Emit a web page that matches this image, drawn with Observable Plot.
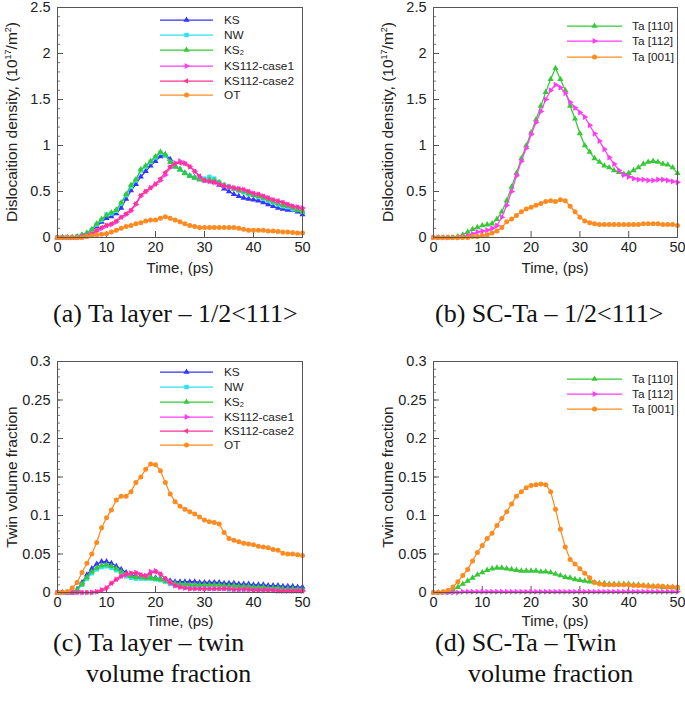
<!DOCTYPE html>
<html><head><meta charset="utf-8">
<script src="https://cdn.jsdelivr.net/npm/d3@7"></script>
<script src="https://cdn.jsdelivr.net/npm/@observablehq/plot@0.6"></script>
<style>
body{margin:0;background:#fff;}
#root{position:relative;width:685px;height:701px;overflow:hidden;background:#fff;font-family:"Liberation Sans",Arial,sans-serif;color:#222;}
.panel{position:absolute;}
.cap{position:absolute;font-family:"Liberation Serif","Times New Roman",serif;font-size:26px;line-height:26px;color:#111;white-space:nowrap;}
.ylab{position:absolute;font-size:15.5px;line-height:15px;white-space:nowrap;transform:translate(-50%,-50%) rotate(-90deg);}
.xlab{position:absolute;font-size:15px;line-height:15px;white-space:nowrap;transform:translate(-50%,-50%);}
.ylab sup{font-size:9px;vertical-align:6px;line-height:0;}
.legt{position:absolute;font-size:11.8px;line-height:11px;height:11px;overflow:visible;white-space:nowrap;transform:translateY(-50%);color:#222;}
.legt sub{font-size:7.5px;vertical-align:-1px;line-height:0;}
.legs{position:absolute;overflow:visible;}
</style>
</head><body>
<div id="root"></div>
<script>
// ---------------- data ----------------
const time = [0,1,2,3,4,5,6,7,8,9,10,11,12,13,14,15,16,17,18,19,20,21,22,23,24,25,26,27,28,29,30,31,32,33,34,35,36,37,38,39,40,41,42,43,44,45,46,47,48,49,50];
const xTicks = [0,10,20,30,40,50];
const yTicksDensity = [0,0.5,1,1.5,2,2.5];
const yTicksTwin = [0,0.05,0.1,0.15,0.2,0.25,0.3];

// (a) Ta layer – dislocation density
const ksA  = [0,0,0,0,0,0.02,0.04,0.07,0.12,0.17,0.21,0.23,0.26,0.32,0.42,0.51,0.58,0.66,0.72,0.78,0.83,0.88,0.9,0.85,0.78,0.74,0.7,0.67,0.65,0.63,0.62,0.62,0.6,0.57,0.53,0.5,0.47,0.45,0.43,0.42,0.41,0.4,0.38,0.36,0.34,0.32,0.31,0.3,0.3,0.28,0.25];
const nwA  = [0,0,0,0,0.01,0.02,0.04,0.08,0.14,0.19,0.25,0.26,0.29,0.37,0.46,0.55,0.62,0.73,0.77,0.82,0.87,0.92,0.89,0.82,0.77,0.74,0.7,0.67,0.65,0.64,0.64,0.66,0.64,0.6,0.57,0.55,0.53,0.51,0.49,0.47,0.46,0.44,0.42,0.4,0.38,0.36,0.34,0.33,0.31,0.3,0.28];
const ks2A = [0,0,0,0,0.01,0.03,0.05,0.09,0.15,0.2,0.24,0.27,0.3,0.38,0.47,0.57,0.63,0.74,0.78,0.83,0.88,0.93,0.9,0.82,0.77,0.74,0.7,0.67,0.65,0.63,0.62,0.63,0.62,0.6,0.57,0.55,0.53,0.51,0.5,0.48,0.46,0.45,0.43,0.41,0.39,0.37,0.35,0.34,0.32,0.3,0.28];
const c1A  = [0,0,0,0,0,0.01,0.02,0.04,0.07,0.1,0.13,0.14,0.17,0.22,0.25,0.29,0.36,0.45,0.5,0.54,0.58,0.62,0.68,0.76,0.81,0.83,0.81,0.77,0.72,0.66,0.62,0.61,0.6,0.58,0.56,0.55,0.54,0.53,0.52,0.5,0.48,0.47,0.45,0.43,0.41,0.39,0.38,0.36,0.34,0.33,0.32];
const c2A  = [0,0,0,0,0,0.01,0.02,0.04,0.08,0.11,0.13,0.15,0.18,0.22,0.26,0.3,0.37,0.46,0.5,0.54,0.58,0.64,0.71,0.77,0.8,0.81,0.8,0.77,0.72,0.67,0.62,0.61,0.6,0.58,0.56,0.55,0.54,0.53,0.52,0.5,0.48,0.47,0.45,0.43,0.41,0.4,0.38,0.36,0.34,0.33,0.31];
const otA  = [0,0,0,0,0,0,0.01,0.02,0.03,0.035,0.04,0.06,0.08,0.1,0.12,0.13,0.15,0.16,0.18,0.19,0.19,0.21,0.225,0.21,0.19,0.17,0.15,0.13,0.12,0.11,0.11,0.11,0.11,0.11,0.11,0.11,0.11,0.1,0.09,0.08,0.08,0.08,0.08,0.07,0.07,0.065,0.06,0.06,0.055,0.05,0.05];

// (b) SC-Ta – dislocation density
const ta110B = [0,0,0,0,0,0.01,0.03,0.06,0.09,0.11,0.13,0.14,0.15,0.2,0.28,0.4,0.55,0.7,0.86,1.0,1.14,1.28,1.43,1.58,1.72,1.84,1.72,1.6,1.43,1.29,1.13,1.0,0.93,0.86,0.82,0.78,0.76,0.73,0.71,0.69,0.7,0.73,0.76,0.8,0.82,0.83,0.82,0.8,0.79,0.76,0.7];
const ta112B = [0,0,0,0,0,0,0.01,0.02,0.04,0.06,0.07,0.08,0.1,0.13,0.22,0.35,0.5,0.67,0.83,0.97,1.12,1.25,1.37,1.5,1.6,1.66,1.63,1.57,1.47,1.41,1.36,1.31,1.22,1.13,1.05,0.96,0.87,0.8,0.73,0.68,0.66,0.64,0.63,0.63,0.62,0.62,0.63,0.63,0.62,0.61,0.6];
const ta001B = [0,0,0,0,0,0,0,0,0.01,0.01,0.02,0.03,0.05,0.07,0.11,0.17,0.2,0.24,0.28,0.31,0.33,0.35,0.37,0.39,0.4,0.39,0.41,0.4,0.34,0.28,0.22,0.18,0.16,0.15,0.14,0.14,0.14,0.14,0.14,0.14,0.14,0.14,0.14,0.15,0.15,0.15,0.15,0.14,0.14,0.14,0.13];

// (c) Ta layer – twin volume fraction
const ksC  = [0,0,0,0,0.004,0.013,0.023,0.031,0.037,0.04,0.04,0.038,0.034,0.03,0.026,0.023,0.021,0.02,0.02,0.02,0.019,0.018,0.017,0.015,0.014,0.014,0.014,0.014,0.014,0.013,0.013,0.013,0.013,0.013,0.012,0.012,0.012,0.011,0.011,0.011,0.01,0.01,0.01,0.009,0.009,0.009,0.008,0.008,0.008,0.007,0.007];
const nwC  = [0,0,0,0,0.003,0.01,0.018,0.025,0.03,0.033,0.034,0.032,0.029,0.025,0.021,0.019,0.018,0.018,0.018,0.018,0.017,0.016,0.014,0.011,0.009,0.008,0.007,0.006,0.006,0.006,0.005,0.005,0.005,0.005,0.005,0.004,0.004,0.004,0.004,0.004,0.004,0.003,0.003,0.003,0.003,0.003,0.003,0.003,0.003,0.003,0.003];
const ks2C = [0,0,0,0,0.003,0.011,0.02,0.027,0.032,0.035,0.036,0.034,0.031,0.027,0.023,0.021,0.02,0.02,0.019,0.019,0.018,0.017,0.015,0.013,0.012,0.011,0.011,0.01,0.01,0.01,0.01,0.01,0.01,0.01,0.009,0.009,0.009,0.008,0.008,0.008,0.007,0.007,0.007,0.006,0.006,0.006,0.005,0.005,0.005,0.004,0.004];
const c1C  = [0,0,0,0,0,0,0,0,0.001,0.003,0.006,0.012,0.017,0.021,0.023,0.025,0.026,0.023,0.022,0.027,0.028,0.024,0.018,0.013,0.009,0.007,0.006,0.005,0.005,0.005,0.005,0.005,0.005,0.005,0.005,0.005,0.004,0.004,0.004,0.004,0.003,0.003,0.003,0.003,0.003,0.002,0.002,0.002,0.002,0.002,0.002];
const c2C  = [0,0,0,0,0,0,0,0,0.001,0.003,0.006,0.012,0.017,0.021,0.024,0.025,0.025,0.023,0.021,0.025,0.027,0.024,0.018,0.013,0.009,0.007,0.006,0.005,0.005,0.005,0.005,0.005,0.005,0.005,0.005,0.005,0.004,0.004,0.004,0.004,0.003,0.003,0.003,0.003,0.003,0.002,0.002,0.002,0.002,0.002,0.002];
const otC  = [0,0,0.001,0.006,0.013,0.026,0.038,0.05,0.065,0.084,0.097,0.107,0.12,0.125,0.125,0.131,0.143,0.15,0.16,0.167,0.166,0.158,0.143,0.128,0.118,0.112,0.108,0.105,0.102,0.098,0.094,0.092,0.091,0.089,0.078,0.07,0.068,0.066,0.064,0.063,0.062,0.06,0.059,0.058,0.056,0.055,0.051,0.05,0.05,0.049,0.048];

// (d) SC-Ta – twin volume fraction
const ta110D = [0,0,0,0,0.003,0.007,0.011,0.015,0.019,0.023,0.026,0.029,0.031,0.032,0.032,0.031,0.03,0.029,0.028,0.028,0.028,0.028,0.027,0.027,0.026,0.024,0.022,0.02,0.019,0.017,0.016,0.015,0.014,0.013,0.012,0.012,0.011,0.011,0.011,0.011,0.011,0.01,0.01,0.009,0.009,0.008,0.008,0.007,0.007,0.007,0.006];
const ta112D = [0,0,0,0,0,0,0.001,0.001,0.001,0.001,0.001,0.001,0.001,0.001,0.001,0.001,0.001,0.001,0.001,0.001,0.001,0.001,0.001,0.001,0.001,0.001,0.001,0.001,0.001,0.001,0.001,0.001,0.001,0.001,0.001,0.001,0.001,0.001,0.001,0.001,0.001,0.001,0.001,0.001,0.001,0.001,0.001,0.001,0.001,0.001,0.001];
const ta001D = [0,0,0.001,0.003,0.007,0.014,0.022,0.03,0.041,0.052,0.061,0.07,0.077,0.087,0.096,0.105,0.115,0.125,0.131,0.136,0.139,0.14,0.141,0.14,0.131,0.108,0.082,0.059,0.043,0.037,0.031,0.025,0.019,0.013,0.011,0.01,0.01,0.01,0.01,0.01,0.01,0.009,0.009,0.009,0.008,0.008,0.008,0.008,0.007,0.007,0.007];

// ---------------- styles ----------------
const sty = {
  KS:   {color:"#3535ff", symbol:"triangle", rotate:0,   r:2.3},
  NW:   {color:"#2fe0ee", symbol:"square",   rotate:0,   r:2.5},
  KS2:  {color:"#36c936", symbol:"triangle", rotate:0,   r:2.3},
  C1:   {color:"#ff3cf5", symbol:"triangle", rotate:90,  r:2.3},
  C2:   {color:"#ff3390", symbol:"triangle", rotate:-90, r:2.0},
  OT:   {color:"#ff8a1f", symbol:"circle",   rotate:0,   r:2.5}
};

const seriesA = [
  {label:"KS", html:"KS", values:ksA, ...sty.KS},
  {label:"NW", html:"NW", values:nwA, ...sty.NW},
  {label:"KS2", html:"KS<sub>2</sub>", values:ks2A, ...sty.KS2},
  {label:"KS112-case1", html:"KS112-case1", values:c1A, ...sty.C1},
  {label:"KS112-case2", html:"KS112-case2", values:c2A, ...sty.C2},
  {label:"OT", html:"OT", values:otA, ...sty.OT}
];
const seriesB = [
  {label:"Ta [110]", html:"Ta [110]", values:ta110B, ...sty.KS2},
  {label:"Ta [112]", html:"Ta [112]", values:ta112B, ...sty.C1},
  {label:"Ta [001]", html:"Ta [001]", values:ta001B, ...sty.OT}
];
const seriesC = [
  {label:"KS", html:"KS", values:ksC, ...sty.KS},
  {label:"NW", html:"NW", values:nwC, ...sty.NW},
  {label:"KS2", html:"KS<sub>2</sub>", values:ks2C, ...sty.KS2},
  {label:"KS112-case1", html:"KS112-case1", values:c1C, ...sty.C1},
  {label:"KS112-case2", html:"KS112-case2", values:c2C, ...sty.C2},
  {label:"OT", html:"OT", values:otC, ...sty.OT}
];
const seriesD = [
  {label:"Ta [110]", html:"Ta [110]", values:ta110D, ...sty.KS2},
  {label:"Ta [112]", html:"Ta [112]", values:ta112D, ...sty.C1},
  {label:"Ta [001]", html:"Ta [001]", values:ta001D, ...sty.OT}
];

const root = document.getElementById("root");
const symType = {triangle:d3.symbolTriangle, square:d3.symbolSquare, circle:d3.symbolCircle};

function makePanel({series, yDomain, yTicks, left, top, width, height, mL, mR, mT, mB}) {
  const fw = width - mL - mR, fh = height - mT - mB;
  const rows = series.flatMap(s => time.map((t, i) => ({t, v: s.values[i], label: s.label})));
  const yMinor = d3.ticks(yDomain[0], yDomain[1], (yTicks.length - 1) * 5);
  const marks = [
    Plot.tickY(yMinor, {y: d => d, insetRight: fw - 3, stroke: "#555", strokeWidth: 0.8}),
    Plot.tickY(yTicks, {y: d => d, insetRight: fw - 6, stroke: "#555"}),
    Plot.tickX(xTicks, {x: d => d, insetTop: fh - 6, stroke: "#555"})
  ];
  for (const s of series) {
    const d = rows.filter(r => r.label === s.label);
    marks.push(Plot.line(d, {x: "t", y: "v", stroke: s.color, strokeWidth: 1.25}));
    marks.push(Plot.dot(d, {x: "t", y: "v", fill: s.color, stroke: null, r: s.r, symbol: s.symbol, rotate: s.rotate}));
  }
  marks.push(Plot.frame({stroke: "#555", strokeWidth: 1}));
  const svg = Plot.plot({
    width, height, marginLeft: mL, marginRight: mR, marginTop: mT, marginBottom: mB,
    style: {fontFamily: "'Liberation Sans', Arial, sans-serif", fontSize: "14.5px", color: "#222", background: "transparent", overflow: "visible"},
    x: {domain: [0, 50], ticks: xTicks, tickSize: 0, tickPadding: 4, label: null},
    y: {domain: yDomain, ticks: yTicks, tickSize: 0, tickPadding: 7, tickFormat: d => String(d), label: null},
    marks
  });
  const div = document.createElement("div");
  div.className = "panel";
  div.style.left = left + "px";
  div.style.top = top + "px";
  div.appendChild(svg);
  root.appendChild(div);
}

function addText(cls, html, x, y) {
  const el = document.createElement("div");
  el.className = cls;
  el.innerHTML = html;
  el.style.left = x + "px";
  el.style.top = y + "px";
  root.appendChild(el);
}

function makeLegend(series, {x0, x1, tx, rows}) {
  const mx = (x0 + x1) / 2;
  series.forEach((s, i) => {
    const y = rows[i];
    const svg = d3.create("svg").attr("class", "legs")
      .attr("width", x1 - x0).attr("height", 10)
      .style("left", x0 + "px").style("top", (y - 5) + "px");
    svg.append("line").attr("x1", 0).attr("x2", x1 - x0).attr("y1", 5).attr("y2", 5)
      .attr("stroke", s.color).attr("stroke-width", 1.25);
    svg.append("path").attr("d", d3.symbol(symType[s.symbol], Math.PI * s.r * s.r)())
      .attr("fill", s.color)
      .attr("transform", `translate(${mx - x0},5) rotate(${s.rotate})`);
    root.appendChild(svg.node());
    addText("legt", s.html, tx, y);
  });
}

// panels
makePanel({series: seriesA, yDomain: [0, 2.5], yTicks: yTicksDensity, left: 0, top: 0, width: 342, height: 280, mL: 57, mR: 40, mT: 7, mB: 43});
makePanel({series: seriesB, yDomain: [0, 2.5], yTicks: yTicksDensity, left: 342, top: 0, width: 343, height: 280, mL: 91, mR: 8, mT: 7, mB: 43});
makePanel({series: seriesC, yDomain: [0, 0.3], yTicks: yTicksTwin, left: 0, top: 345, width: 342, height: 290, mL: 57, mR: 40, mT: 16, mB: 43});
makePanel({series: seriesD, yDomain: [0, 0.3], yTicks: yTicksTwin, left: 342, top: 345, width: 343, height: 290, mL: 91, mR: 8, mT: 16, mB: 43});

// legends
makeLegend(seriesA, {x0: 160, x1: 213, tx: 224, rows: [20, 35, 50, 66, 81, 95]});
makeLegend(seriesB, {x0: 567, x1: 622, tx: 632, rows: [26, 41, 57]});
makeLegend(seriesC, {x0: 160, x1: 213, tx: 224, rows: [372, 387, 402, 416.5, 431, 445]});
makeLegend(seriesD, {x0: 567, x1: 622, tx: 632, rows: [379, 394, 409]});

// axis titles
const yTitleDensity = "Dislocaition density, (10<sup>17</sup>/m<sup>2</sup>)";
addText("ylab", yTitleDensity, 11, 122);
addText("ylab", yTitleDensity, 387, 122);
addText("ylab", "Twin volume fraction", 11, 477);
addText("ylab", "Twin colume fraction", 387, 477);
addText("xlab", "Time, (ps)", 180, 267);
addText("xlab", "Time, (ps)", 555, 267);
addText("xlab", "Time, (ps)", 180, 620);
addText("xlab", "Time, (ps)", 555, 620);

// captions
addText("cap", "(a) Ta layer – 1/2&lt;111&gt;", 53, 301);
addText("cap", "(b) SC-Ta – 1/2&lt;111&gt;", 435, 301);
addText("cap", "(c) Ta layer – twin", 53, 630);
addText("cap", "volume fraction", 86, 661);
addText("cap", "(d) SC-Ta – Twin", 435, 630);
addText("cap", "volume fraction", 468, 661);
</script>
</body></html>
